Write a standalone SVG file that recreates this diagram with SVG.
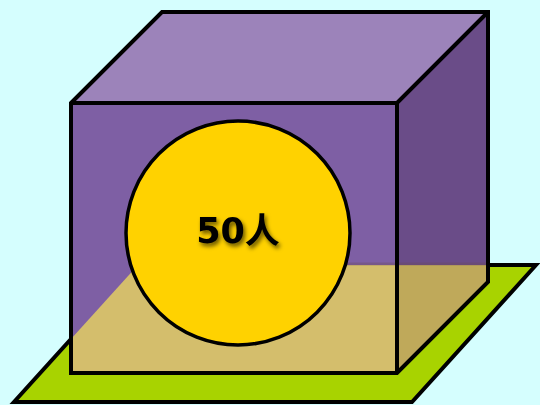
<svg xmlns="http://www.w3.org/2000/svg" width="540" height="405" viewBox="0 0 540 405">
<defs>
<style>
.edge{fill:none;stroke:#000;stroke-width:4;stroke-linejoin:miter}
.lbl{font-family:"DejaVu Sans","Noto Sans CJK SC",sans-serif;font-weight:bold;font-size:35px;fill:#000}
</style>
<filter id="sh" x="-20%" y="-40%" width="150%" height="190%">
<feDropShadow dx="2" dy="3" stdDeviation="2" flood-color="#000" flood-opacity="0.6"/>
</filter>
</defs>
<rect width="540" height="405" fill="#D5FEFE"/>
<g id="floor">
<polygon points="138,265 536,265 412,402 14,402" class="edge" style="fill:#A8D300"/>
</g>
<g id="cube">
<polygon points="71,103 162,12 488,12 397,103" fill="#9C83BA"/>
<polygon points="71,103 397,103 397,373 71,373" fill="#7E5FA4"/>
<polygon points="397,103 488,12 488,282 397,373" fill="#6A4C88"/>
<polygon points="138,265 397,265 397,373 71,373 71,339" fill="#D4BE6C"/>
<polygon points="397,265 488,265 488,282 397,373" fill="#BFA95A"/>
<line x1="138" y1="264" x2="486" y2="264" stroke="#6b4a5a" stroke-width="3" opacity="0.35"/>
<polygon points="71,103 162,12 488,12 488,282 397,373 71,373" class="edge"/>
<polyline points="71,103 397,103 488,12" class="edge"/>
<line x1="397" y1="103" x2="397" y2="373" class="edge"/>
</g>
<g id="circle">
<circle cx="238" cy="233" r="112" fill="#FFD200" stroke="#000" stroke-width="3.5"/>
<text x="238" y="243" text-anchor="middle" class="lbl" filter="url(#sh)">50人</text>
</g>
</svg>
